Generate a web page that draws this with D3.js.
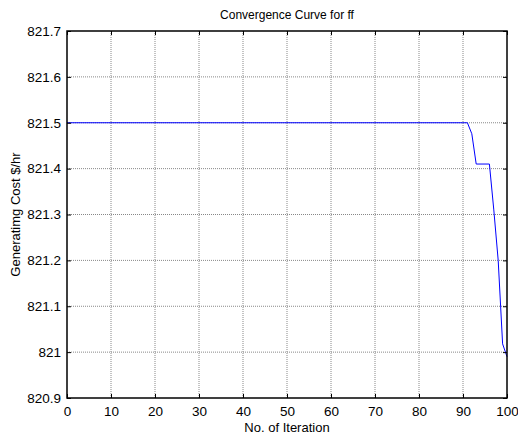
<!DOCTYPE html>
<html>
<head>
<meta charset="utf-8">
<script src="https://cdn.jsdelivr.net/npm/d3@7"></script>
<style>
  body { margin: 0; background: #fff; }
  svg { font-family: "Liberation Sans", Arial, sans-serif; }
  .tick text { font-size: 13.5px; fill: #000; }
</style>
</head>
<body>
<div id="chart"></div>
<script>
// ---------- DATA ----------
// breakpoints of the convergence curve (iteration, cost)
const iterations = [0, 91, 92, 93, 96, 97, 98, 99, 100];
const costs = [821.5, 821.5, 821.476, 821.41, 821.41, 821.31, 821.2, 821.018, 820.99];
const xTicks = [0, 10, 20, 30, 40, 50, 60, 70, 80, 90, 100];
const yTicks = [820.9, 821, 821.1, 821.2, 821.3, 821.4, 821.5, 821.6, 821.7];

const width = 518, height = 436;
const margin = { top: 31, right: 11, bottom: 38, left: 67 };
const w = width - margin.left - margin.right;
const h = height - margin.top - margin.bottom;

const svg = d3.select("#chart").append("svg")
  .attr("width", width)
  .attr("height", height);

const g = svg.append("g").attr("transform", `translate(${margin.left},${margin.top})`);

const x = d3.scaleLinear().domain([0, 100]).range([0, w]);
const y = d3.scaleLinear().domain([820.9, 821.7]).range([h, 0]);

// grid
g.append("g").selectAll("line").data(xTicks.slice(1, -1)).enter().append("line")
  .attr("x1", d => x(d)).attr("x2", d => x(d))
  .attr("y1", 0).attr("y2", h)
  .attr("stroke", "#888").attr("stroke-dasharray", "1,1");
g.append("g").selectAll("line").data(yTicks.slice(1, -1)).enter().append("line")
  .attr("y1", d => y(d)).attr("y2", d => y(d))
  .attr("x1", 0).attr("x2", w)
  .attr("stroke", "#888").attr("stroke-dasharray", "1,1");

// line
const pts = iterations.map((d, i) => [d, costs[i]]);
g.append("path")
  .datum(pts)
  .attr("fill", "none")
  .attr("stroke", "#0000ff")
  .attr("stroke-width", 1)
  .attr("d", d3.line().x(d => x(d[0])).y(d => y(d[1])));

// axes (inward ticks, box)
const fmt = d => d3.format("")(+d.toFixed(1));
g.append("g").attr("transform", `translate(0,${h})`)
  .call(d3.axisBottom(x).tickValues(xTicks).tickSize(-4).tickPadding(8).tickFormat(fmt))
  .call(a => a.select(".domain").remove());
g.append("g")
  .call(d3.axisTop(x).tickValues(xTicks).tickSize(-4).tickFormat(""))
  .call(a => a.select(".domain").remove());
g.append("g")
  .call(d3.axisLeft(y).tickValues(yTicks).tickSize(-4).tickPadding(6).tickFormat(fmt))
  .call(a => a.select(".domain").remove());
g.append("g").attr("transform", `translate(${w},0)`)
  .call(d3.axisRight(y).tickValues(yTicks).tickSize(-4).tickFormat(""))
  .call(a => a.select(".domain").remove());

g.append("rect")
  .attr("width", w).attr("height", h)
  .attr("fill", "none").attr("stroke", "#000").attr("stroke-width", 1.5);

// labels
svg.append("text")
  .attr("x", margin.left + w / 2).attr("y", 19)
  .attr("text-anchor", "middle").attr("font-size", 12)
  .text("Convergence Curve for ff");
svg.append("text")
  .attr("x", margin.left + w / 2).attr("y", 432)
  .attr("text-anchor", "middle").attr("font-size", 13)
  .text("No. of Iteration");
svg.append("text")
  .attr("transform", `translate(20,${margin.top + h / 2}) rotate(-90)`)
  .attr("text-anchor", "middle").attr("font-size", 13)
  .text("Generatimg Cost $/hr");
</script>
</body>
</html>
